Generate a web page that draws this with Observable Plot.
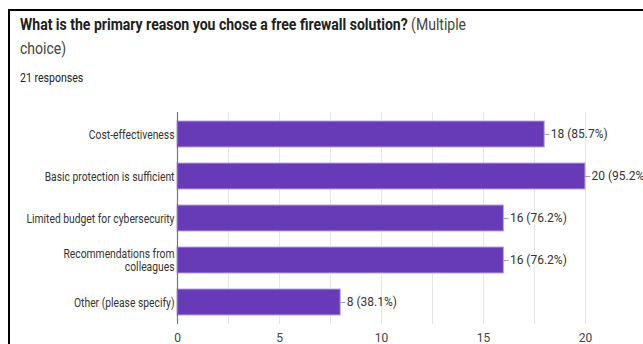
<!DOCTYPE html>
<html><head><meta charset="utf-8">
<script src="https://cdn.jsdelivr.net/npm/d3@7"></script>
<script src="https://cdn.jsdelivr.net/npm/@observablehq/plot@0.6"></script>
<style>
body{margin:0;background:#fff;width:643px;height:344px;overflow:hidden;position:relative;font-family:Roboto,"Liberation Sans",Arial,sans-serif;}
#frame{position:absolute;left:8px;top:9px;width:700px;height:400px;border-left:2px solid #000;border-top:2px solid #000;}
#title{position:absolute;left:20px;top:12px;font-size:17px;line-height:24px;color:#202124;transform:scaleX(0.825);transform-origin:0 0;width:700px;white-space:nowrap}
#title b{font-weight:700}
#title span{color:#444}
#sub{position:absolute;left:20px;top:70px;font-size:12px;line-height:16px;color:#202124;transform:scaleX(0.88);transform-origin:0 0;white-space:nowrap}
#chart{position:absolute;left:0;top:100px}
</style></head>
<body>
<div id="frame"></div>
<div id="title"><b>What is the primary reason you chose a free firewall solution?</b> <span>(Multiple<br>choice)</span></div>
<div id="sub">21 responses</div>
<div id="chart"></div>
<script>
const categories = ["Cost-effectiveness","Basic protection is sufficient","Limited budget for cybersecurity","Recommendations from colleagues","Other (please specify)"];
const categoryLabels = ["Cost-effectiveness","Basic protection is sufficient","Limited budget for cybersecurity","Recommendations from\ncolleagues","Other (please specify)"];
const counts = [18,20,16,16,8];
const percents = ["85.7%","95.2%","76.2%","76.2%","38.1%"];
const xTicks = [0,5,10,15,20];
const xGrid = [0,2.5,5,7.5,10,12.5,15,17.5,20];

const data = categories.map((c,i)=>({category:c,count:counts[i],label:`${counts[i]} (${percents[i]})`}));
const labelMap = new Map(categories.map((c,i)=>[c,categoryLabels[i]]));

const chart = Plot.plot({
  width:643, height:244,
  marginLeft:177, marginRight:58, marginTop:12, marginBottom:20,
  style:{fontFamily:'Roboto,"Liberation Sans",Arial,sans-serif', fontSize:"12px", color:"#333", overflow:"visible", background:"transparent"},
  x:{domain:[0,20]},
  y:{domain:categories, paddingInner:0.39, paddingOuter:0.19},
  marks:[
    Plot.gridX(xGrid,{stroke:"#e6e6e6", strokeOpacity:1}),
    Plot.barX(data,{x:"count", y:"category", fill:"#673ab7", stroke:"#b9a4dd", strokeWidth:1}),
    Plot.ruleY(data,{y:"category", x1:"count", x2:d=>d.count+0.25, stroke:"#9e9e9e"}),
    Plot.text(data,{x:"count", y:"category", text:"label", textAnchor:"start", dx:6, fill:"#333", fontSize:12}),
    Plot.ruleX([0],{stroke:"#777", strokeWidth:1.2}),
    Plot.axisX({ticks:xTicks, tickSize:0, tickPadding:9, fontSize:12, fill:"#444", label:null}),
    Plot.axisY({tickSize:0, tickPadding:3, tickFormat:d=>labelMap.get(d), fontSize:12, fill:"#333", label:null, lineHeight:1.1})
  ]
});
// condense the category labels horizontally, as in the reference
chart.querySelectorAll('g[aria-label="y-axis tick label"] text').forEach(t=>{
  const x = +t.getAttribute("x") || 0;
  const tr = t.getAttribute("transform") || "";
  t.setAttribute("transform", `${tr} translate(${x},0) scale(0.86,1) translate(${-x},0)`);
});
document.getElementById("chart").appendChild(chart);
</script>
</body></html>
